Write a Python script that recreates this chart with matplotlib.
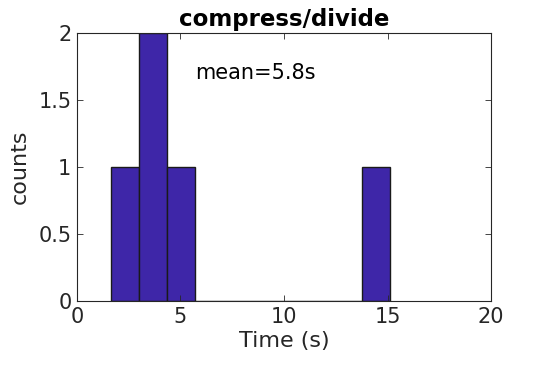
import matplotlib
matplotlib.use('Agg')
import matplotlib.pyplot as plt
import numpy as np

# histogram bins
bin_edges = [1.66, 3.00, 4.35, 5.69, 7.04, 8.38, 9.73, 11.07, 12.42, 13.76, 15.11]
counts = [1, 2, 1, 0, 0, 0, 0, 0, 0, 1]
mean_label = 'mean=5.8s'
x_ticks = [0, 5, 10, 15, 20]
y_ticks = [0, 0.5, 1, 1.5, 2]
y_tick_labels = ['0', '0.5', '1', '1.5', '2']

dark = '#262626'
fig = plt.figure(figsize=(5.42, 3.65), dpi=100)
ax = fig.add_axes([0.142, 0.175, 0.764, 0.734])

edges = np.array(bin_edges)
ax.bar(edges[:-1], counts, width=np.diff(edges), align='edge',
       color='#3e26a8', edgecolor='#1a1a1a', linewidth=1.0)

ax.set_xlim(0, 20)
ax.set_ylim(0, 2)
ax.set_xticks(x_ticks)
ax.set_yticks(y_ticks)
ax.set_yticklabels(y_tick_labels)
ax.tick_params(direction='in', top=True, right=True, labelsize=15,
               colors=dark, length=4, width=0.6, pad=4)
for s in ax.spines.values():
    s.set_color(dark)
    s.set_linewidth(0.8)

ax.set_xlabel('Time (s)', fontsize=16, color=dark, labelpad=3)
ax.set_ylabel('counts', fontsize=16, color=dark, labelpad=6)
ax.set_title('compress/divide', fontsize=16.5, fontweight='bold', color='black', pad=5)
ax.text(5.7, 1.70, mean_label, fontsize=15, va='center', ha='left', color='black')

fig.savefig('out.png', dpi=100)
